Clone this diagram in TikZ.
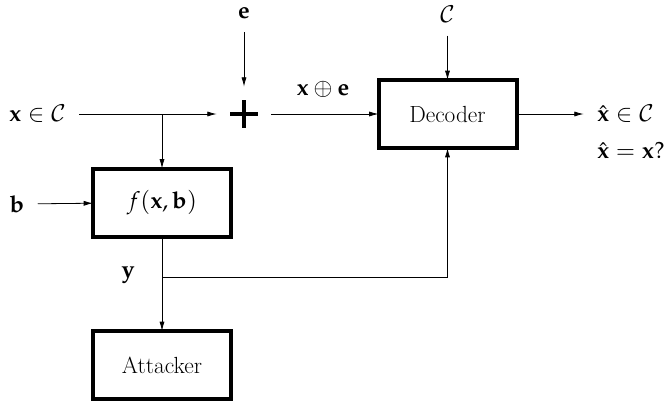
\documentclass[tikz,border=0pt]{standalone}
\usepackage{mathpazo}
\usetikzlibrary{arrows.meta}

\tikzset{
  thin line/.style={line width=0.6pt},
  arr/.style={thin line, -{Latex[length=7pt,width=3.8pt]}},
  from label/.style={shorten <=10pt},
  to label/.style={shorten >=10pt},
  block/.style={draw, line width=3pt, minimum width=103.5pt, minimum height=51pt,
    inner sep=0pt, outer sep=0pt},
  lbl/.style={inner sep=0pt, outer sep=0pt},
  adder/.style={minimum size=21pt, inner sep=0pt, outer sep=10pt,
    path picture={
      \draw[line width=3pt]
        (path picture bounding box.west) -- (path picture bounding box.east)
        (path picture bounding box.north) -- (path picture bounding box.south);
    }},
}

\begin{document}
\begin{tikzpicture}[x=0.75pt, y=-0.75pt, font=\fontsize{17.5}{21}\selectfont]
  \useasboundingbox (0,0) rectangle (666,404);

  % blocks
  \node[block] (dec) at (447.5,114) {Decoder};
  \node[block] (f)   at (162,202.5) {$f(\mathbf{x},\mathbf{b})$};
  \node[block] (att) at (162,365)   {Attacker};
  \node[adder] (add) at (244,114) {};

  % signals
  \node[lbl] (xin)   at (37.5,114) {$\mathbf{x}\in\mathcal{C}$};
  \node[lbl] (e)     at (244,13)  {$\mathbf{e}$};
  \node[lbl] (code)  at (447.5,14) {$\mathcal{C}$};
  \node[lbl] (b)     at (17,204)  {$\mathbf{b}$};
  \node[lbl] (xe)    at (323,89)  {$\mathbf{x}\oplus\mathbf{e}$};
  \node[lbl] (y)     at (128,275) {$\mathbf{y}$};
  \node[lbl, anchor=west] (xhat1) at (597,114) {$\hat{\mathbf{x}}\in\mathcal{C}$};
  \node[lbl, anchor=west] (xhat2) at (597,151) {$\hat{\mathbf{x}}=\mathbf{x}?$};

  % branch points
  \coordinate (j1) at (162,114);
  \coordinate (j2) at (162,277);

  % connections
  \draw[arr, from label] (xin) -- (add);
  \draw[arr, from label] (e) -- (add);
  \draw[arr] (add) -- (dec);
  \draw[arr, from label] (code) -- (dec);
  \draw[arr, to label] (dec) -- (xhat1.west);
  \draw[arr] (j1) -- (f);
  \draw[arr, from label] (b) -- (f);
  \draw[thin line] (f) -- (j2);
  \draw[arr] (j2) -- (att);
  \draw[arr] (j2) -| (dec);
\end{tikzpicture}
\end{document}
